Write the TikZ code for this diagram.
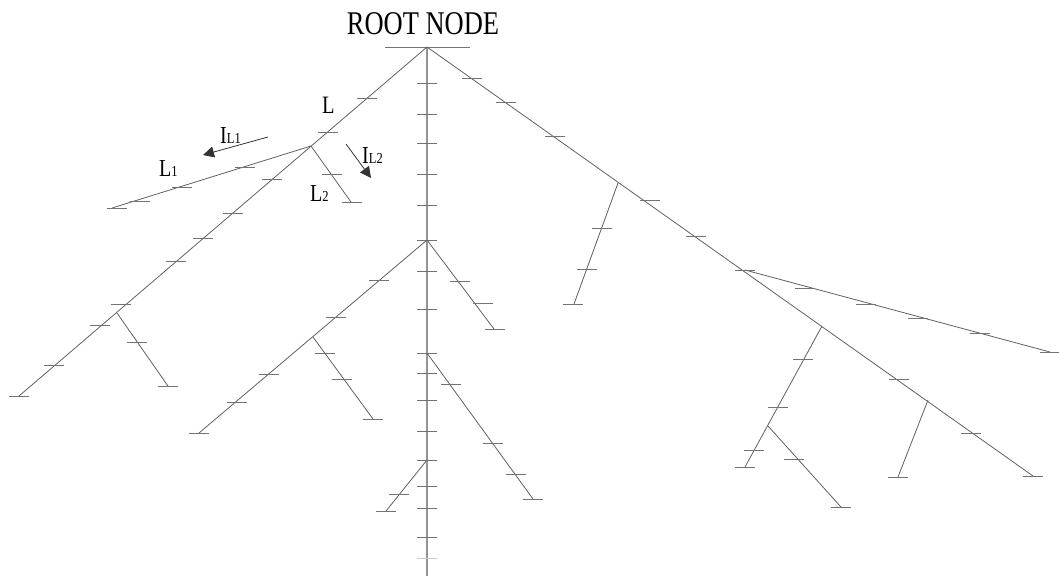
\documentclass[tikz,border=0pt]{standalone}
\usepackage{graphicx}
\usepackage{fontspec}
\setmainfont{Liberation Serif}
\usetikzlibrary{arrows.meta}
\newcommand\stxt[2]{\scalebox{1}[1.22]{\fontsize{#1}{#1}\selectfont #2}}
\newcommand\lab[2]{\stxt{20}{#1}\stxt{12.5}{#2}}
\newcommand\tk[1]{\draw[tickmark] ([xshift=-10pt]#1) -- ([xshift=10pt]#1);}
\begin{document}
\begin{tikzpicture}[x=1pt,y=-1pt,
  branch/.style={draw=black!62, line width=0.8pt},
  trunk/.style={draw=black!42, line width=2pt},
  tickmark/.style={draw=black!55, line width=1pt},
  lbl/.style={inner sep=0pt, anchor=base west},
  current/.style={draw=black!80, line width=0.8pt, -{Triangle[length=11pt,width=11pt]}}
]
\useasboundingbox (0,0) rectangle (1059,576);
% ---------- coordinates ----------
\coordinate (root) at (427,47);
\coordinate (rbl) at (385,47);
\coordinate (rbr) at (470,47);
\coordinate (tb) at (427,576);
\foreach \n/\y in {t1/83,t2/114,t3/143,t4/174,t5/205,m1/240,t6/271,t7/309,m2/353,t8/373,t9/400,t10/431,m3/460,t11/486,t12/508,t13/537,t14/558}
  {\coordinate (\n) at (427,\y);}
% left main branch
\coordinate (A) at (311,146);
\coordinate (B) at (117,313);
\coordinate (lbe) at (19,396);
\coordinate (l1e) at (112,208);
\coordinate (l2e) at (351,202);
\coordinate (be) at (168,386);
% middle branches
\coordinate (D) at (313,337);
\coordinate (mle) at (199,433);
\coordinate (de) at (373,419);
\coordinate (mre) at (494,329);
\coordinate (m2e) at (533,499);
\coordinate (m3e) at (386,511);
% right main branch
\coordinate (E) at (618,183);
\coordinate (F) at (745,270);
\coordinate (G) at (822,326);
\coordinate (H) at (928,400);
\coordinate (K) at (768,426);
\coordinate (rme) at (1033,476);
\coordinate (ee) at (574,304);
\coordinate (fe) at (1050,352);
\coordinate (ge) at (745,467);
\coordinate (ke) at (841,507);
\coordinate (he) at (898,477);
% arrows
\coordinate (i1s) at (268,137);
\coordinate (i1e) at (203,155);
\coordinate (i2s) at (346,144);
\coordinate (i2e) at (371,178);
% ---------- trunk ----------
\draw[trunk] (root) -- (tb);
\foreach \n in {t1,t2,t3,t4,t5,m1,t6,t7,m2,t8,t9,t10,m3,t11,t12,t13} {\tk{\n}}
\draw[tickmark, draw=black!20] ([xshift=-10pt]t14) -- ([xshift=10pt]t14);
\draw[draw=black!55, line width=1pt] (rbl) -- (rbr);
% ---------- branches ----------
\draw[branch] (root) -- (lbe);
\draw[branch] (A) -- (l1e);
\draw[branch] (A) -- (l2e);
\draw[branch] (B) -- (be);
\draw[branch] (m1) -- (mle);
\draw[branch] (D) -- (de);
\draw[branch] (m1) -- (mre);
\draw[branch] (m2) -- (m2e);
\draw[branch] (m3) -- (m3e);
\draw[branch] (root) -- (rme);
\draw[branch] (E) -- (ee);
\draw[branch] (F) -- (fe);
\draw[branch] (G) -- (ge);
\draw[branch] (K) -- (ke);
\draw[branch] (H) -- (he);
% ---------- ticks on branches ----------
\foreach \x/\y in {367/98,328/132,272/179,233/213,203/238,176/261,121/304,100/325,54/365,19/396,
  245/167,182/187,140/201,117/208, 332/174,352/202, 137/342,168/386,
  379/280,336/317,269/374,237/402,199/433, 325/353,342/379,373/419,
  460/281,483/303,495/329, 451/384,493/443,516/474,533/499, 399/494,386/511,
  472/78,506/102,555/136,650/200,696/236,745/270,899/379,971/433,1033/476,
  602/228,587/269,573/304, 805/288,866/304,918/318,980/333,1050/352,
  803/359,778/407,754/450,745/467, 794/459,841/507, 898/477}
  {\coordinate (tmp) at (\x,\y); \tk{tmp}}
% ---------- arrows ----------
\draw[current] (i1s) -- (i1e);
\draw[current] (i2s) -- (i2e);
% ---------- labels ----------
\node[inner sep=0pt, anchor=base] (lroot) at (423,34) {\scalebox{1}[1.25]{\fontsize{26.5}{26.5}\selectfont ROOT NODE}};
\node[lbl] (lL) at (322,113) {\stxt{20.5}{L}};
\node[lbl] (lL1) at (159,176) {\lab{L}{1}};
\node[lbl] (lI1) at (220,143) {\lab{I}{L1}};
\node[lbl] (lI2) at (362,163) {\lab{I}{L2}};
\node[lbl] (lL2) at (310,201) {\lab{L}{2}};
\end{tikzpicture}
\end{document}
